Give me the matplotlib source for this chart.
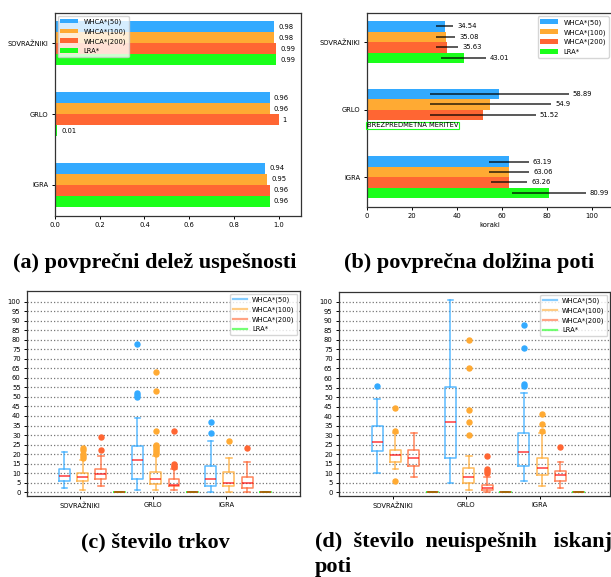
import matplotlib
matplotlib.use('Agg')
import matplotlib.pyplot as plt
from matplotlib.lines import Line2D
import numpy as np

categories = ['SOVRAŽNIKI', 'GRLO', 'IGRA']
algorithms = ['WHCA*(50)', 'WHCA*(100)', 'WHCA*(200)', 'LRA*']
colors = ['#33aaff', '#ffaa33', '#ff6633', '#1aff1a']

# (a) success rate, one row per algorithm, columns follow categories
success = [[0.98, 0.96, 0.94],
           [0.98, 0.96, 0.95],
           [0.99, 1.0, 0.96],
           [0.99, 0.01, 0.96]]

# (b) mean path length and its spread (LRA* on GRLO has no value)
path_len = [[34.54, 58.89, 63.19],
            [35.08, 54.9, 63.06],
            [35.63, 51.52, 63.26],
            [43.01, np.nan, 80.99]]
path_err = [[3.8, 30.8, 8.8],
            [4.2, 27.0, 9.0],
            [4.8, 23.5, 8.0],
            [9.9, np.nan, 16.3]]

# (c) collisions - box statistics
col_lo = [[2, 1, 0], [1, 1, 0], [3, 1, 0], [0, 0, 0]]
col_q1 = [[6, 6.8, 3.5], [5.8, 4.2, 3], [7, 3.3, 2], [0, 0, 0]]
col_med = [[8.5, 17, 7], [8, 7, 5], [9.8, 3.7, 5], [0, 0, 0]]
col_q3 = [[12, 24, 13.5], [10.2, 10.8, 10.8], [12, 6.8, 8], [0, 0, 0]]
col_hi = [[21, 39, 27], [17, 19, 18], [19, 12, 16], [0, 0, 0]]
col_fliers = [[[], [50, 51, 52, 78], [31, 37]],
              [[18, 19, 20, 22, 23], [20, 21, 22, 23, 24, 25, 32, 53, 63], [27]],
              [[22, 29], [13, 14, 15, 32], [23]],
              [[], [], []]]

# (d) failed path searches - box statistics
fail_lo = [[10, 5, 6], [12, 1, 3], [8, 0, 2], [0, 0, 0]]
fail_q1 = [[21.5, 17.8, 14], [16, 5, 9], [14, 1.4, 6], [0, 0, 0]]
fail_med = [[26.5, 37, 21], [19.5, 8, 12.5], [18, 2, 9], [0, 0, 0]]
fail_q3 = [[35, 55.5, 31], [22, 12.7, 18], [22, 4, 11], [0, 0, 0]]
fail_hi = [[49, 101, 52], [31, 19, 31], [31, 8, 16], [0, 0, 0]]
fail_fliers = [[[56], [], [56, 57, 76, 88]],
               [[6, 32, 44], [30, 37, 43, 65, 80], [32, 36, 41]],
               [[], [10, 11, 12, 19], [24]],
               [[], [], []]]

FS = 4.9
W, H = 611, 577
fig = plt.figure(figsize=(W / 100, H / 100), dpi=100)


def px_axes(left, top, right, bottom):
    return fig.add_axes([left / W, 1 - bottom / H, (right - left) / W, (bottom - top) / H])


def style(ax):
    for s in ax.spines.values():
        s.set_color('#333333')
        s.set_linewidth(0.9)
    ax.tick_params(labelsize=FS, length=2.5, width=0.7, pad=2)


def hbars(ax, values, errs=None, h=0.155):
    y = np.arange(len(categories))
    for j, name in enumerate(algorithms):
        off = (j - 1.5) * h
        vals = values[j]
        kw = {}
        if errs is not None:
            kw = dict(xerr=errs[j], error_kw=dict(ecolor='black', alpha=0.7, lw=1.3, capsize=0))
        bars = ax.barh(y + off, vals, height=h, color=colors[j], label=name, **kw)
        labels = ['' if np.isnan(v) else f'{v:g}' for v in vals]
        ax.bar_label(bars, labels=labels, padding=3, fontsize=FS)
    ax.set_yticks(y)
    ax.set_yticklabels(categories)
    ax.set_ylim(len(categories) - 1 + 0.44, -0.43)


# (a)
ax = px_axes(55, 13, 301, 216)
style(ax)
hbars(ax, success)
ax.set_xlim(0, 1.1)
ax.legend(loc='upper left', fontsize=FS, borderaxespad=0.4, handlelength=2.6)

# (b)
ax = px_axes(367, 13, 612, 207)
style(ax)
hbars(ax, path_len, path_err)
ax.set_xlim(0, 109)
ax.set_xlabel('koraki', fontsize=FS, labelpad=2)
ax.text(0, 1 + 1.5 * 0.155, 'BREZPREDMETNA MERITEV', fontsize=FS, ha='left', va='center',
        bbox=dict(facecolor='none', edgecolor=colors[3], pad=0.6, lw=0.8))
ax.legend(loc='upper right', fontsize=FS, borderaxespad=0.5, handlelength=2.6)


def boxes(ax, lo, q1, med, q3, hi, fliers):
    for j, name in enumerate(algorithms):
        c = colors[j]
        stats = [dict(whislo=lo[j][i], q1=q1[j][i], med=med[j][i], q3=q3[j][i],
                      whishi=hi[j][i], fliers=fliers[j][i]) for i in range(len(categories))]
        pos = 4 * np.arange(len(categories)) + j
        line = dict(color=c, lw=1.1, alpha=0.8)
        ax.bxp(stats, positions=pos, widths=0.6, boxprops=line, whiskerprops=line, capprops=line,
               medianprops=dict(color='red', lw=1.3, alpha=0.65),
               flierprops=dict(marker='o', markerfacecolor=c, markeredgecolor=c, markersize=3.6),
               manage_ticks=False)
    ax.set_xticks(4 * np.arange(len(categories)) + 0.87)
    ax.set_xticklabels(categories)
    ax.set_yticks(np.arange(0, 101, 5))
    ax.yaxis.grid(True, linestyle=':', color='#777777', lw=0.9)
    ax.set_axisbelow(True)
    handles = [Line2D([], [], color=c, lw=1.6, alpha=0.6) for c in colors]
    ax.legend(handles, algorithms, loc='upper right', fontsize=FS, borderaxespad=0.4)


# (c)
ax = px_axes(27, 291, 300, 496)
style(ax)
boxes(ax, col_lo, col_q1, col_med, col_q3, col_hi, col_fliers)
ax.set_xlim(-2.05, 12.9)
ax.set_ylim(-2, 105.6)

# (d)
ax = px_axes(339, 292, 610, 496)
style(ax)
boxes(ax, fail_lo, fail_q1, fail_med, fail_q3, fail_hi, fail_fliers)
ax.set_xlim(-2.08, 12.7)
ax.set_ylim(-2, 105.2)

cap = dict(fontsize=16, fontweight='bold', family=['Liberation Serif', 'DejaVu Serif'])
fig.text(155 / W, 1 - 263 / H, '(a) povprečni delež uspešnosti', ha='center', va='center', **cap)
fig.text(469 / W, 1 - 263 / H, '(b) povprečna dolžina poti', ha='center', va='center', **cap)
fig.text(155 / W, 1 - 542 / H, '(c) število trkov', ha='center', va='center', **cap)
fig.text(315 / W, 1 - 542 / H, '(d)  število  neuispešnih   iskanj', ha='left', va='center', **cap)
fig.text(315 / W, 1 - 567 / H, 'poti', ha='left', va='center', **cap)

fig.savefig('out.png', dpi=100)
